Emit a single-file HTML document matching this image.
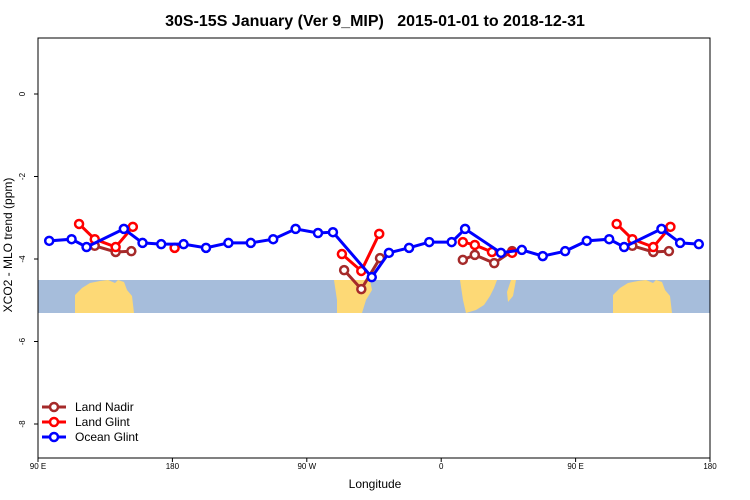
<!DOCTYPE html>
<html><head><meta charset="utf-8"><style>
body{margin:0;background:#fff;}
svg{font-family:"Liberation Sans",sans-serif;display:block}
</style></head><body>
<svg id="chart" width="750" height="500">
<text x="375" y="26" text-anchor="middle" font-size="16" font-weight="bold" style="white-space:pre">30S-15S January (Ver 9_MIP)   2015-01-01 to 2018-12-31</text>
<g id="map">
<rect x="38" y="280" width="672" height="33" fill="#a6bddb"/>
<path d="M75,313 L75,295 L82,288 L90,283 L100,281 L108,280 L115,283 L118,280 L124,282 L127,290 L132,296 L134,313 Z" fill="#fdd976"/>
<path d="M613,313 L613,295 L620,288 L628,283 L638,281 L646,280 L653,283 L656,280 L662,282 L665,290 L670,296 L672,313 Z" fill="#fdd976"/>
<path d="M334,280 L370,280 L372,290 L366,300 L362,313 L337,313 L337,300 Z" fill="#fdd976"/>
<path d="M460,280 L497,280 L494,288 L490,296 L484,305 L476,310 L466,313 L463,300 Z" fill="#fdd976"/>
<path d="M511,280 L516,280 L513,296 L508,302 L507,292 Z" fill="#fdd976"/>
</g>
<g id="axes"></g>
<g id="series"></g>
<g id="legend"></g>
<text x="375" y="488" text-anchor="middle" font-size="12">Longitude</text>
<text transform="translate(12,245) rotate(-90)" text-anchor="middle" font-size="12">XCO2 - MLO trend (ppm)</text>
</svg>
<script>
const xTickLons=[90,180,270,360,450,540];
const xTickLabels=["90 E","180","90 W","0","90 E","180"];
const yTicks=[0,-2,-4,-6,-8];
const oceanLon=[97.5,112.5,122.5,147.5,160,172.5,187.5,202.5,217.5,232.5,247.5,262.5,277.5,287.5,313.5,325,338.5,352,7,16,40,54,68,83];
const oceanVal=[-3.56,-3.52,-3.71,-3.27,-3.61,-3.64,-3.64,-3.73,-3.61,-3.61,-3.52,-3.27,-3.37,-3.35,-4.44,-3.85,-3.73,-3.59,-3.59,-3.27,-3.85,-3.78,-3.93,-3.81];
const glintLon=[117.5,128,142,153.5,null,181.5,null,293.5,306.5,318.5,null,14.5,22.5,34,47.5];
const glintVal=[-3.15,-3.52,-3.71,-3.22,null,-3.73,null,-3.88,-4.29,-3.39,null,-3.59,-3.66,-3.83,-3.85];
const nadirLon=[128,142,152.5,null,295,306.5,319,null,14.5,22.5,35.5,47.5];
const nadirVal=[-3.68,-3.83,-3.81,null,-4.27,-4.73,-3.98,null,-4.02,-3.90,-4.10,-3.81];
const X0=38,X1=710,Y0=38,Y1=458;
function xs(l){return X0+(l-90)*(X1-X0)/450;}
function ys(v){return 94-v*41.25;}
const NS="http://www.w3.org/2000/svg";
function mk(t,a,p){const e=document.createElementNS(NS,t);for(const k in a)e.setAttribute(k,a[k]);p.appendChild(e);return e;}
const ax=document.getElementById('axes');
const frame=mk('rect',{x:X0,y:Y0,width:X1-X0,height:Y1-Y0,fill:'none',stroke:'#000'},ax);


xTickLons.forEach((l,i)=>{
 mk('line',{x1:xs(l),x2:xs(l),y1:Y1,y2:Y1+4,stroke:'#000'},ax);
 const t=mk('text',{x:xs(l),y:Y1+11,'font-size':8,'text-anchor':'middle'},ax);t.textContent=xTickLabels[i];
 
 
});
yTicks.forEach(v=>{
 mk('line',{x1:X0-4,x2:X0,y1:ys(v),y2:ys(v),stroke:'#000'},ax);
 const t=mk('text',{transform:`translate(${X0-13},${ys(v)}) rotate(-90)`,'font-size':8,'text-anchor':'middle'},ax);t.textContent=String(v);
 
 
});
const sg=document.getElementById('series');
function draw(lons,vals,color,name,joinPasses){
 const g=mk('g',{},sg);
 
 
 const segs=[];let seg=[];
 [0,360].forEach(off=>{
  if(!joinPasses&&seg.length){segs.push(seg);seg=[];}
  lons.forEach((l,i)=>{
   if(l===null){if(seg.length)segs.push(seg);seg=[];return;}
   let L=(l<90?l+360:l)+off;
   if(L>540){if(seg.length)segs.push(seg);seg=[];return;}
   seg.push([xs(L),ys(vals[i])]);
  });
 });
 if(seg.length)segs.push(seg);
 segs.forEach(s=>{
  if(s.length>1)mk('polyline',{points:s.map(p=>p.join(',')).join(' '),fill:'none',stroke:color,'stroke-width':3},g);
 });
 segs.forEach(s=>s.forEach(p=>{const c=mk('circle',{cx:p[0],cy:p[1],r:4,fill:'#fff',stroke:color,'stroke-width':2.5},g);
  
  }));
}
draw(nadirLon,nadirVal,'#a52a2a','land-nadir',false);
draw(glintLon,glintVal,'#ff0000','land-glint',false);
draw(oceanLon,oceanVal,'#0000ff','ocean-glint',true);
const lg=document.getElementById('legend');
[['Land Nadir','#a52a2a'],['Land Glint','#ff0000'],['Ocean Glint','#0000ff']].forEach((e,i)=>{
 const y=407+i*15;
 mk('line',{x1:42,x2:66,y1:y,y2:y,stroke:e[1],'stroke-width':3},lg);
 mk('circle',{cx:54,cy:y,r:4,fill:'#fff',stroke:e[1],'stroke-width':2.5},lg);
 const t=mk('text',{x:75,y:y+4,'font-size':12},lg);t.textContent=e[0];
 
 
});
</script>
</body></html>
